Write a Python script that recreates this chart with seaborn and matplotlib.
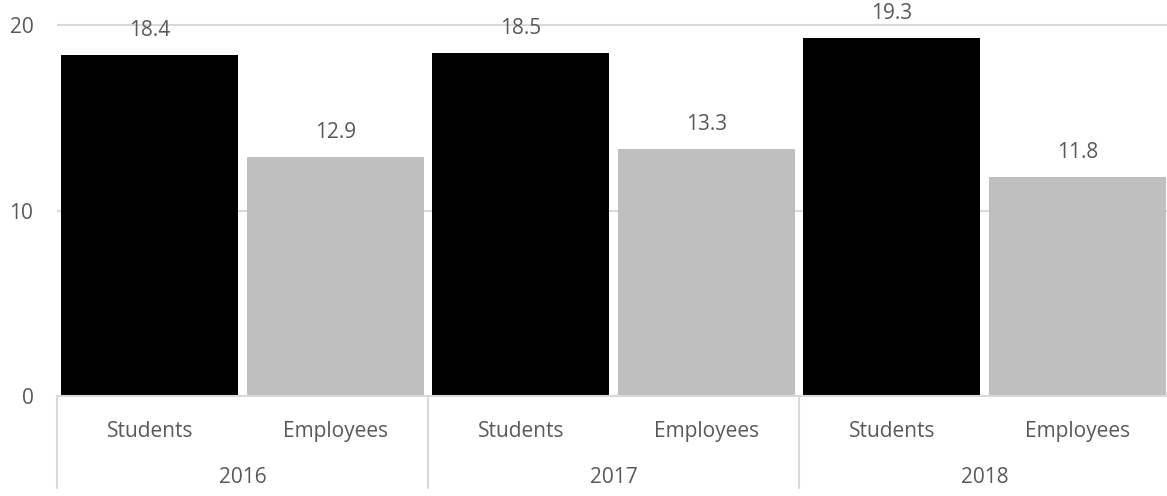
import matplotlib
matplotlib.use("Agg")
import matplotlib.pyplot as plt
import seaborn as sns
import pandas as pd

years = ["2016", "2017", "2018"]
groups = ["Students", "Employees"]
students = [18.4, 18.5, 19.3]
employees = [12.9, 13.3, 11.8]
colors = {"Students": "#000000", "Employees": "#BFBFBF"}

rows = []
for i, y in enumerate(years):
    rows.append({"key": f"{y} Students", "year": y, "group": "Students", "value": students[i]})
    rows.append({"key": f"{y} Employees", "year": y, "group": "Employees", "value": employees[i]})
df = pd.DataFrame(rows)

sns.set_theme(style="white")
plt.rcParams["font.family"] = ["Open Sans", "DejaVu Sans"]
TXT = "#595959"
GRID = "#D9D9D9"

fig = plt.figure(figsize=(11.67, 4.96), dpi=100)
ax = fig.add_axes([57 / 1167, 100 / 496, 1113 / 1167, 396 / 496])

sns.barplot(data=df, x="key", y="value", hue="group", palette=colors,
            order=list(df["key"]), dodge=False, width=0.955, legend=False,
            saturation=1, ax=ax, edgecolor="none")

for c in ax.containers:
    ax.bar_label(c, labels=[f"{v:.1f}" for v in c.datavalues], padding=10,
                 fontsize=15, color=TXT)

ax.set_xlim(-0.5, 5.5)
ax.set_ylim(0, 21.35)
ax.set_yticks([0, 10, 20])
ax.yaxis.grid(True, color=GRID, linewidth=1.5)
ax.set_axisbelow(True)
for s in ["top", "right", "left"]:
    ax.spines[s].set_visible(False)
ax.spines["bottom"].set_color(GRID)
ax.spines["bottom"].set_linewidth(1.5)
ax.tick_params(axis="y", length=0, pad=17, labelsize=15, labelcolor=TXT)
ax.tick_params(axis="x", length=0, pad=18, labelsize=15, labelcolor=TXT)
ax.set_xticks(range(len(df)))
ax.set_xticklabels(list(df["group"]))
ax.set_xlabel("")
ax.set_ylabel("")

# year labels and group separators
trans = ax.get_xaxis_transform()
for i, y in enumerate(years):
    ax.text(2 * i + 0.5, -0.205, y, transform=trans, ha="center", va="center",
            fontsize=15, color=TXT)
for xb in [-0.5, 1.5, 3.5, 5.5]:
    ax.plot([xb, xb], [0, -0.232], transform=trans, color=GRID, lw=1.5,
            clip_on=False)

fig.savefig("out.png", dpi=100)
